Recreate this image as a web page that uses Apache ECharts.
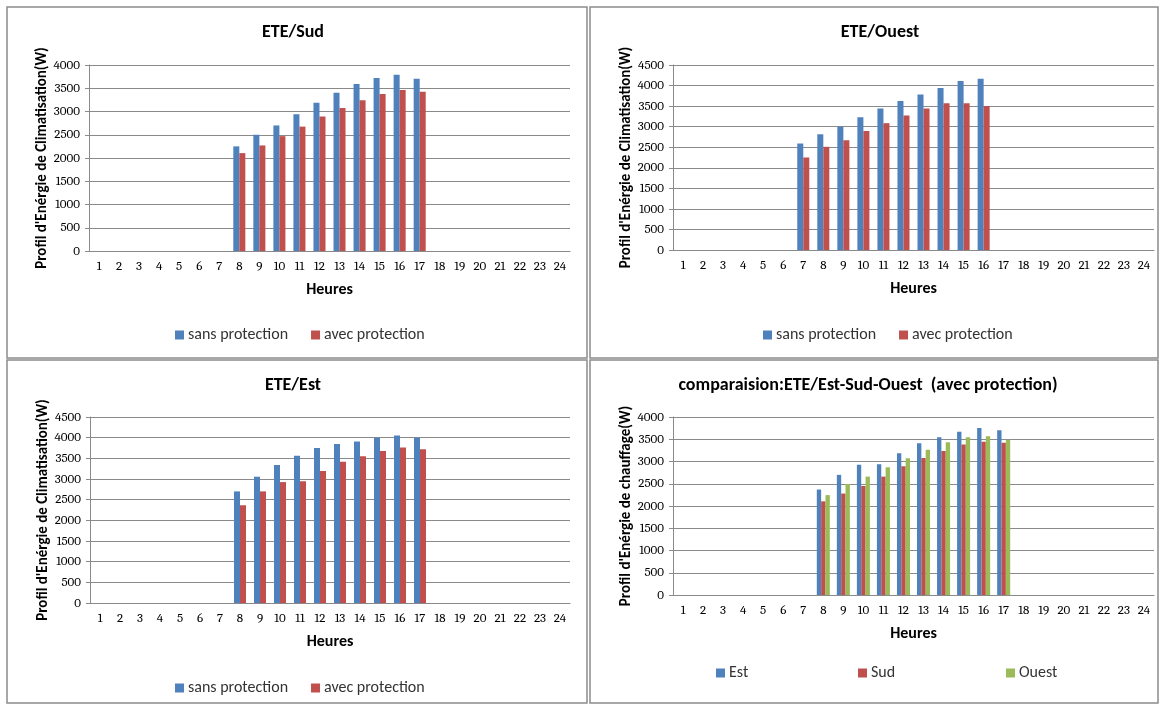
<!DOCTYPE html>
<html>
<head>
<meta charset="utf-8">
<script src="https://cdn.jsdelivr.net/npm/echarts@6/dist/echarts.min.js"></script>
<style>
  html, body { margin: 0; padding: 0; background: #fff; }
  #chart { width: 1160px; height: 706px; }
</style>
</head>
<body>
<div id="chart"></div>
<script>
// Hours of the day (category axis)
const hours = ['1','2','3','4','5','6','7','8','9','10','11','12','13','14','15','16','17','18','19','20','21','22','23','24'];
const _ = null;

// ETE / Sud
const sudSans = [_,_,_,_,_,_,_, 2250, 2500, 2700, 2940, 3190, 3405, 3590, 3720, 3790, 3705, _,_,_,_,_,_,_];
const sudAvec = [_,_,_,_,_,_,_, 2105, 2270, 2470, 2675, 2895, 3075, 3240, 3375, 3460, 3425, _,_,_,_,_,_,_];

// ETE / Ouest
const ouestSans = [_,_,_,_,_,_, 2590, 2815, 3000, 3230, 3440, 3625, 3780, 3940, 4110, 4165, _,_,_,_,_,_,_,_];
const ouestAvec = [_,_,_,_,_,_, 2250, 2510, 2670, 2895, 3085, 3270, 3440, 3570, 3570, 3505, _,_,_,_,_,_,_,_];

// ETE / Est
const estSans = [_,_,_,_,_,_,_, 2700, 3055, 3340, 3565, 3750, 3845, 3905, 4000, 4055, 4000, _,_,_,_,_,_,_];
const estAvec = [_,_,_,_,_,_,_, 2365, 2700, 2925, 2945, 3195, 3420, 3550, 3675, 3765, 3720, _,_,_,_,_,_,_];

// Comparaison avec protection
const cmpEst   = [_,_,_,_,_,_,_, 2370, 2700, 2925, 2940, 3185, 3410, 3545, 3670, 3755, 3700, _,_,_,_,_,_,_];
const cmpSud   = [_,_,_,_,_,_,_, 2105, 2280, 2450, 2660, 2895, 3080, 3235, 3380, 3445, 3420, _,_,_,_,_,_,_];
const cmpOuest = [_,_,_,_,_,_,_, 2245, 2495, 2660, 2870, 3075, 3265, 3430, 3545, 3565, 3490, _,_,_,_,_,_,_];

const titles = ['ETE/Sud', 'ETE/Ouest', 'ETE/Est', 'comparaision:ETE/Est-Sud-Ouest  (avec protection)'];
const yNames = ["Profil d'Enérgie de Climatisation(W)", "Profil d'Enérgie de Climatisation(W)",
                "Profil d'Enérgie de Climatisation(W)", "Profil d'Enérgie de chauffage(W)"];
const yMax = [4000, 4500, 4500, 4000];

const BLUE = '#4F81BD', RED = '#C0504D', GREEN = '#9BBB59';
const SANS = "Carlito, Calibri, 'Liberation Sans', Arial, sans-serif";
const SERIF = "Caladea, 'Liberation Serif', 'DejaVu Serif', serif";
const GRID_COLOR = '#8a8a8a';

// Panel frames and plot rectangles
const frames = [
  { x: 7,   y: 7,   w: 580, h: 351 },
  { x: 590, y: 7,   w: 568, h: 351 },
  { x: 7,   y: 360, w: 580, h: 343 },
  { x: 590, y: 360, w: 568, h: 343 }
];
const grids = [
  { left: 89,  top: 65,  width: 481, height: 186 },
  { left: 673, top: 65,  width: 481, height: 185 },
  { left: 90,  top: 417, width: 480, height: 186 },
  { left: 673, top: 417, width: 481, height: 178 }
];

const xAxes = grids.map((g, i) => ({
  type: 'category', gridIndex: i, data: hours, boundaryGap: true,
  axisLine: { lineStyle: { color: GRID_COLOR, width: 1 } },
  axisTick: { show: false },
  axisLabel: { color: '#000', fontFamily: SERIF, fontSize: 13, margin: 9, interval: 0 },
  name: 'Heures', nameLocation: 'middle', nameGap: 31,
  nameTextStyle: { color: '#000', fontFamily: SANS, fontSize: 16, fontWeight: 'bold' }
}));

const yAxes = grids.map((g, i) => ({
  type: 'value', gridIndex: i, min: 0, max: yMax[i], interval: 500,
  axisLine: { show: true, lineStyle: { color: GRID_COLOR, width: 1 } },
  axisTick: { show: true, length: 4, lineStyle: { color: GRID_COLOR } },
  axisLabel: { color: '#000', fontFamily: SERIF, fontSize: 13, margin: 9, formatter: v => String(v) },
  splitLine: { show: true, lineStyle: { color: GRID_COLOR, width: 1 } },
  name: yNames[i], nameLocation: 'middle', nameRotate: 90, nameGap: 37,
  nameTextStyle: { color: '#000', fontFamily: SANS, fontSize: 15, fontWeight: 'bold' }
}));

function bar(name, data, color, gi, gap) {
  return {
    type: 'bar', name, data, xAxisIndex: gi, yAxisIndex: gi,
    barGap: '0%', barCategoryGap: gap,
    itemStyle: { color }, emphasis: { disabled: true }, animation: false
  };
}

const series = [
  bar('sans protection', sudSans, BLUE, 0, '40%'),
  bar('avec protection', sudAvec, RED, 0, '40%'),
  bar('sans protection', ouestSans, BLUE, 1, '40%'),
  bar('avec protection', ouestAvec, RED, 1, '40%'),
  bar('sans protection', estSans, BLUE, 2, '40%'),
  bar('avec protection', estAvec, RED, 2, '40%'),
  bar('Est', cmpEst, BLUE, 3, '35%'),
  bar('Sud', cmpSud, RED, 3, '35%'),
  bar('Ouest', cmpOuest, GREEN, 3, '35%')
];

function legend(names, left, top) {
  return {
    data: names, left, top, orient: 'horizontal', icon: 'rect',
    itemWidth: 9, itemHeight: 9, itemGap: 23,
    selectedMode: false,
    textStyle: { color: '#333', fontFamily: SANS, fontSize: 16, padding: [0, 0, 0, -1] }
  };
}

const legends = [
  legend(['sans protection', 'avec protection'], 170, 322),
  legend(['sans protection', 'avec protection'], 758, 322),
  legend(['sans protection', 'avec protection'], 170, 675),
  legend(['Est'], 711, 660),
  legend(['Sud'], 853, 660),
  legend(['Ouest'], 1001, 660)
];

const titleCenters = [[293, 32], [880, 32], [293, 385], [868, 385]];
const graphic = [];
frames.forEach(f => graphic.push({
  type: 'rect', shape: { x: f.x, y: f.y, width: f.w, height: f.h },
  style: { fill: 'none', stroke: '#8c8c8c', lineWidth: 1.5 }, silent: true
}));
titles.forEach((t, i) => graphic.push({
  type: 'text', x: titleCenters[i][0], y: titleCenters[i][1], silent: true,
  style: { text: t, fill: '#000', font: "bold 18px " + SANS, textAlign: 'center', textVerticalAlign: 'middle' }
}));

const chart = echarts.init(document.getElementById('chart'), null, { renderer: 'canvas' });
chart.setOption({
  animation: false,
  backgroundColor: '#fff',
  grid: grids,
  xAxis: xAxes,
  yAxis: yAxes,
  legend: legends,
  series,
  graphic
});
</script>
</body>
</html>
